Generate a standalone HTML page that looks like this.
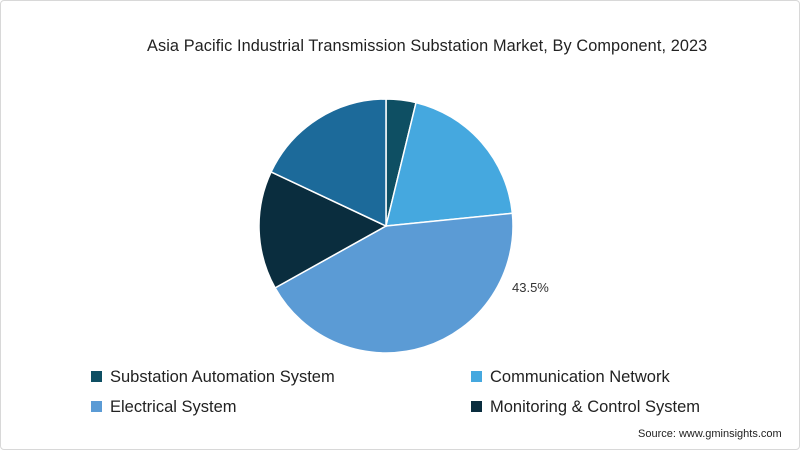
<!DOCTYPE html>
<html><head><meta charset="utf-8"><style>
html,body{margin:0;padding:0;background:#fff}
#wrap{position:relative;width:800px;height:450px;overflow:hidden;font-family:"Liberation Sans",sans-serif;box-sizing:border-box;border:1px solid #d8d8d8;border-radius:4px}
.t{position:absolute;white-space:nowrap}
.leg{position:absolute;font-size:16.5px;color:#222;white-space:nowrap}
.leg span{display:inline-block;width:11px;height:11px;margin-right:8px;vertical-align:0px}
</style></head><body>
<div id="wrap">
<div class="t" style="left:146px;top:36px;font-size:16.3px;letter-spacing:0.1px;color:#222">Asia Pacific Industrial Transmission Substation Market, By Component, 2023</div>
<svg id="pie" width="800" height="450" style="position:absolute;left:0;top:0"></svg>
<div class="t" style="left:511px;top:279px;font-size:13px;color:#333">43.5%</div>
<div class="leg" style="left:90px;top:367px"><span style="background:#0e4f63"></span>Substation Automation System</div>
<div class="leg" style="left:470px;top:367px"><span style="background:#45a8df"></span>Communication Network</div>
<div class="leg" style="left:90px;top:397px"><span style="background:#5b9bd5"></span>Electrical System</div>
<div class="leg" style="left:470px;top:397px"><span style="background:#0a2d3e"></span>Monitoring &amp; Control System</div>
<div class="t" style="left:637px;top:427px;font-size:11px;color:#222">Source: www.gminsights.com</div>
</div>
<script>
const categories = ["Substation Automation System","Communication Network","Electrical System","Monitoring & Control System","Other"];
const values = [3.8, 19.6, 43.5, 15.1, 18.0];
const colors = ["#0e4f63","#45a8df","#5b9bd5","#0a2d3e","#1c6a9a"];
const svg = document.getElementById('pie');
const cx = 385, cy = 225, r = 127;
const total = values.reduce((a,b)=>a+b,0);
let a0 = 0;
function pt(a){ return [cx + r*Math.sin(a), cy - r*Math.cos(a)]; }
values.forEach((v,i)=>{
  const a1 = a0 + v/total*2*Math.PI;
  const p0 = pt(a0), p1 = pt(a1);
  const large = (a1-a0) > Math.PI ? 1 : 0;
  const path = document.createElementNS('http://www.w3.org/2000/svg','path');
  path.setAttribute('d', `M${cx},${cy} L${p0[0]},${p0[1]} A${r},${r} 0 ${large} 1 ${p1[0]},${p1[1]} Z`);
  path.setAttribute('fill', colors[i]);
  path.setAttribute('stroke', '#fff');
  path.setAttribute('stroke-width', '1.5');
  
  
  svg.appendChild(path);
  a0 = a1;
});
</script>
</body></html>
